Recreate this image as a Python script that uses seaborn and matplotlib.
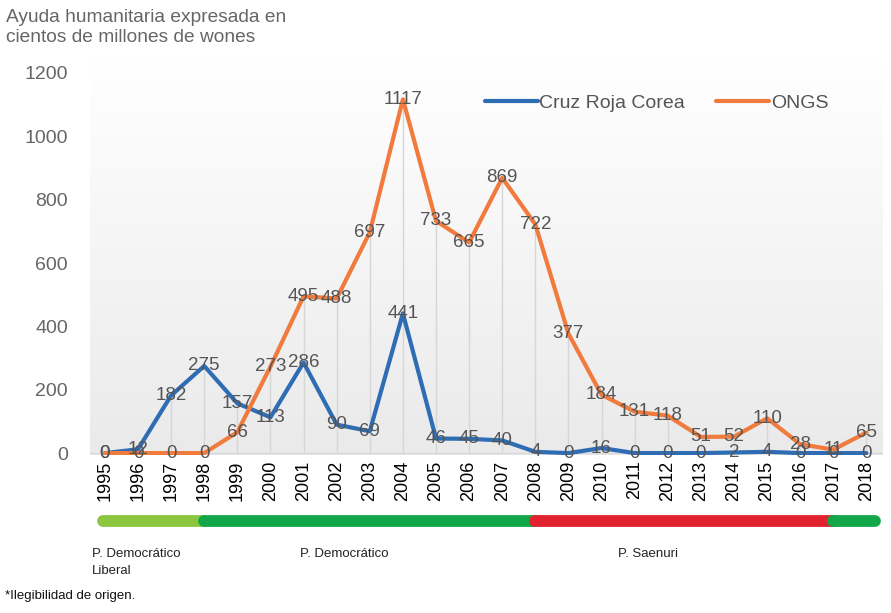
import numpy as np
import pandas as pd
import matplotlib
matplotlib.use("Agg")
import matplotlib.pyplot as plt
import seaborn as sns
from matplotlib.lines import Line2D
from matplotlib.colors import LinearSegmentedColormap

# data
years = list(range(1995, 2019))
cruz_roja = [0, 12, 182, 275, 157, 113, 286, 90, 69, 441, 46, 45, 40,
             4, 0, 16, 0, 0, 0, 2, 4, 0, 0, 0]
ongs = [0, 0, 0, 0, 66, 273, 495, 488, 697, 1117, 733, 665, 869,
        722, 377, 184, 131, 118, 51, 52, 110, 28, 11, 65]

# ruling party periods shown under the axis
period_start = [1994.95, 1998, 2008, 2017]
period_end = [1998, 2008, 2017, 2018.25]
period_color = ["#8cc63f", "#12a84a", "#e32230", "#12a84a"]
period_names = ["P. Democrático\nLiberal", "P. Democrático", "P. Saenuri"]
period_name_x = [1994.6, 2000.9, 2010.5]

df = pd.DataFrame({"Año": years * 2,
                   "Valor": cruz_roja + ongs,
                   "Serie": ["Cruz Roja Corea"] * len(years) + ["ONGS"] * len(years)})

sns.set_style("white")
plt.rcParams["font.family"] = ["Liberation Sans", "DejaVu Sans"]

fig = plt.figure(figsize=(8.91, 6.13), dpi=100)
W, H = 891, 613
ax = fig.add_axes([90 / W, (H - 455) / H, (883 - 90) / W, (455 - 60) / H])

# light gray gradient background of the plot area
grad = np.linspace(0, 1, 256).reshape(-1, 1)
ax.imshow(grad, extent=[0, 1, 0, 1], transform=ax.transAxes, aspect="auto",
          cmap=LinearSegmentedColormap.from_list("bg", ["#eaeaea", "#ffffff"]),
          zorder=0, origin="lower")

# drop lines
tops = np.maximum(cruz_roja, ongs)
ax.vlines(years, 0, tops, color="#d6d6d6", lw=1, zorder=1)

palette = {"Cruz Roja Corea": "#2e6db4", "ONGS": "#f07b3c"}
sns.lineplot(data=df, x="Año", y="Valor", hue="Serie", palette=palette,
             lw=3, ax=ax, zorder=3, legend=False)

# data labels centred on the points
for yr, v in zip(years, ongs):
    ax.text(yr, v, str(v), ha="center", va="center", fontsize=13.5,
            color="#555555", zorder=4)
for yr, v in zip(years, cruz_roja):
    ax.text(yr, v, str(v), ha="center", va="center", fontsize=13.5,
            color="#555555", zorder=4)

ax.set_xlim(1994.55, 2018.5)
ax.set_ylim(-6, 1241)
ax.set_yticks(range(0, 1201, 200))
ax.set_xticks(years)
ax.set_xticklabels([str(y) for y in years], rotation=90, fontsize=13, color="black")
ax.tick_params(axis="y", labelsize=14, colors="#666666", pad=16, length=0)
ax.tick_params(axis="x", length=0, pad=4)
ax.set_xlabel("")
ax.set_ylabel("")
for s in ax.spines.values():
    s.set_visible(False)
ax.axhline(0, color="#d9d9d9", lw=1, zorder=1)

# legend
handles = [Line2D([], [], color=palette[k], lw=3) for k in palette]
leg = fig.legend(handles, list(palette.keys()), loc="center left",
                 bbox_to_anchor=(485 / W, 1 - 103 / H), ncol=2, frameon=False,
                 fontsize=14, handlelength=2.7, handletextpad=0.1,
                 columnspacing=1.6, borderaxespad=0, borderpad=0)
for t in leg.get_texts():
    t.set_color("#555555")

# party period bar
bar_ax = fig.add_axes([90 / W, (H - 531) / H, (883 - 90) / W, 20 / H], sharex=ax)
bar_ax.set_axis_off()
for x0, x1, c in zip(period_start, period_end, period_color):
    bar_ax.plot([x0, x1], [0, 0], color=c, lw=8.5, solid_capstyle="round")
bar_ax.set_ylim(-1, 1)

for name, xn in zip(period_names, period_name_x):
    ax.text(xn, -(548 - 455) / (455 - 60), name, transform=ax.get_xaxis_transform(),
            fontsize=9.5, color="#222222", va="top", ha="left", linespacing=1.6)

fig.text(6 / W, 1 - 9 / H, "Ayuda humanitaria expresada en\ncientos de millones de wones",
         fontsize=13.8, color="#666666", va="top", ha="left", linespacing=1.25)
fig.text(5 / W, 1 - 596 / H, "*Ilegibilidad de origen.", fontsize=9.5,
         color="#111111", va="center", ha="left")

fig.savefig("out.png", dpi=100)
